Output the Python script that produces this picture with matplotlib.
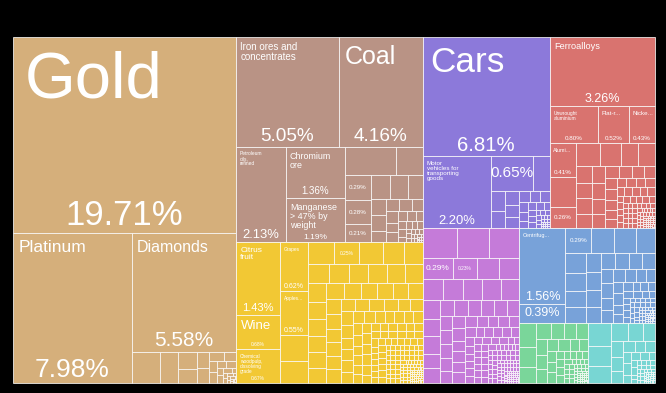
import matplotlib
matplotlib.use("Agg")
import matplotlib.pyplot as plt
from matplotlib.patches import Rectangle

plt.rcParams['font.family'] = ['Liberation Sans', 'DejaVu Sans']

# Share of total exports (%) -- labelled products first, then the unlabelled tail
precious_names = ['Gold', 'Platinum', 'Diamonds']
precious_vals = [19.71, 7.98, 5.58]
precious_tail = [0.40, 0.25, 0.14, 0.12, 0.09, 0.08, 0.06, 0.05, 0.04, 0.04,
                 0.03, 0.03, 0.02, 0.02, 0.02, 0.01, 0.01, 0.01, 0.01,
                 0.005, 0.005, 0.005, 0.005, 0.002, 0.002, 0.002, 0.002, 0.002, 0.002]

mineral_names = ['Iron ores and\nconcentrates', 'Coal', 'Petroleum\noils,\nrefined',
                 'Chromium\nore', 'Manganese\n> 47% by\nweight', '', '', '']
mineral_vals = [5.05, 4.16, 2.13, 1.36, 1.19, 0.29, 0.28, 0.21]
mineral_tail = [0.66, 0.34, 0.20, 0.19, 0.16, 0.11, 0.11, 0.08, 0.07, 0.07,
                0.06, 0.06, 0.05, 0.05, 0.04, 0.04, 0.03, 0.03, 0.03, 0.02,
                0.02, 0.02, 0.02, 0.01, 0.01, 0.01, 0.01, 0.01, 0.01,
                0.005, 0.005, 0.005, 0.005, 0.005,
                0.002, 0.002, 0.002, 0.002, 0.002, 0.002, 0.002, 0.002]

food_names = ['Citrus\nfruit', 'Wine', 'Chemical\nwoodpulp,\ndissolving\ngrade',
              'Grapes', 'Apples...', '']
food_vals = [1.43, 0.68, 0.67, 0.62, 0.55, 0.25]
food_tail = [0.33, 0.28, 0.26, 0.23, 0.21, 0.19, 0.18, 0.17, 0.17, 0.16,
             0.16, 0.15, 0.15, 0.14, 0.14, 0.13, 0.13, 0.12, 0.12, 0.12,
             0.11, 0.11, 0.11, 0.10, 0.10, 0.10, 0.09, 0.09, 0.09, 0.09,
             0.08, 0.08, 0.08, 0.08, 0.07, 0.07, 0.07, 0.07, 0.06, 0.06,
             0.06, 0.06, 0.06, 0.06, 0.05, 0.05, 0.05, 0.05, 0.05, 0.05,
             0.05, 0.04, 0.04, 0.04, 0.04, 0.04, 0.04, 0.04, 0.04, 0.04,
             0.03, 0.03, 0.03, 0.03, 0.03, 0.03, 0.03, 0.03, 0.03, 0.03,
             0.03, 0.03, 0.03, 0.03,
             0.02, 0.02, 0.02, 0.02, 0.02, 0.02, 0.02, 0.02, 0.02, 0.02,
             0.02, 0.02, 0.02, 0.02, 0.02, 0.02, 0.02, 0.02, 0.02,
             0.01, 0.01, 0.01, 0.01, 0.01, 0.01, 0.01, 0.01, 0.01, 0.01,
             0.01, 0.01, 0.01, 0.01, 0.01, 0.01, 0.01, 0.01, 0.01, 0.01,
             0.01, 0.01, 0.01, 0.01, 0.01, 0.01, 0.01, 0.01, 0.01, 0.01,
             0.01, 0.01, 0.01, 0.01, 0.01, 0.01, 0.01, 0.01, 0.01, 0.01,
             0.005, 0.005, 0.005, 0.005, 0.005, 0.005, 0.005, 0.005, 0.005, 0.005,
             0.005, 0.005, 0.005, 0.005, 0.005, 0.005, 0.005, 0.005, 0.005, 0.005,
             0.005, 0.005, 0.005, 0.005, 0.005, 0.005, 0.005, 0.005, 0.005, 0.005,
             0.002, 0.002, 0.002, 0.002, 0.002, 0.002, 0.002, 0.002, 0.002, 0.002,
             0.002, 0.002, 0.002, 0.002, 0.002, 0.002, 0.002, 0.002, 0.002, 0.002,
             0.002, 0.002, 0.002, 0.002, 0.002, 0.002, 0.002, 0.002, 0.002, 0.002,
             0.002, 0.002, 0.002, 0.002, 0.002, 0.002, 0.002, 0.002, 0.002, 0.002]

transport_names = ['Cars', 'Motor\nvehicles for\ntransporting\ngoods', '']
transport_vals = [6.81, 2.20, 0.65]
transport_tail = [0.26, 0.13, 0.11, 0.09, 0.08, 0.07, 0.06, 0.05, 0.05, 0.04,
                  0.04, 0.03, 0.03, 0.03, 0.02, 0.02, 0.02, 0.02,
                  0.01, 0.01, 0.01, 0.01, 0.01, 0.01,
                  0.005, 0.005, 0.005, 0.005, 0.005, 0.005,
                  0.002, 0.002, 0.002, 0.002, 0.002, 0.002,
                  0.002, 0.002, 0.002, 0.002, 0.002, 0.002]

metals_names = ['Ferroalloys', 'Unwrought\naluminium', 'Flat-r...', 'Nicke...', 'Alumi...', '']
metals_vals = [3.26, 0.80, 0.52, 0.43, 0.41, 0.26]
metals_tail = [0.35, 0.24, 0.22, 0.18, 0.17, 0.12, 0.11, 0.11, 0.10, 0.10,
               0.09, 0.09, 0.08, 0.08, 0.07, 0.07, 0.06, 0.06, 0.06, 0.05,
               0.05, 0.05, 0.04, 0.04, 0.04, 0.04, 0.03, 0.03, 0.03, 0.03, 0.03,
               0.02, 0.02, 0.02, 0.02, 0.02, 0.02, 0.02, 0.02, 0.02, 0.02,
               0.01, 0.01, 0.01, 0.01, 0.01, 0.01, 0.01, 0.01, 0.01, 0.01,
               0.01, 0.01, 0.01, 0.01, 0.01, 0.01, 0.01, 0.01, 0.01, 0.01,
               0.005, 0.005, 0.005, 0.005, 0.005, 0.005, 0.005, 0.005, 0.005, 0.005,
               0.005, 0.005, 0.005, 0.005, 0.005, 0.005, 0.005, 0.005, 0.005, 0.005,
               0.002, 0.002, 0.002, 0.002, 0.002, 0.002, 0.002, 0.002, 0.002, 0.002,
               0.002, 0.002, 0.002, 0.002, 0.002, 0.002, 0.002, 0.002, 0.002, 0.002,
               0.002, 0.002, 0.002, 0.002, 0.002, 0.002, 0.002, 0.002, 0.002, 0.002]

machines_names = ['', '']
machines_vals = [0.29, 0.23]
machines_tail = [0.45, 0.43, 0.41, 0.21, 0.20, 0.19, 0.19, 0.18, 0.18, 0.17,
                 0.14, 0.13, 0.13, 0.11, 0.11, 0.10, 0.10, 0.09, 0.09, 0.09,
                 0.09, 0.08, 0.08, 0.08, 0.07, 0.07, 0.07, 0.07, 0.06, 0.06,
                 0.06, 0.06, 0.06, 0.05, 0.05, 0.05, 0.05, 0.05,
                 0.04, 0.04, 0.04, 0.04, 0.04, 0.04,
                 0.03, 0.03, 0.03, 0.03, 0.03, 0.03, 0.03, 0.03, 0.03,
                 0.02, 0.02, 0.02, 0.02, 0.02, 0.02, 0.02, 0.02, 0.02, 0.02,
                 0.02, 0.02, 0.02, 0.02, 0.02,
                 0.01, 0.01, 0.01, 0.01, 0.01, 0.01, 0.01, 0.01, 0.01, 0.01,
                 0.01, 0.01, 0.01, 0.01, 0.01, 0.01, 0.01, 0.01, 0.01, 0.01,
                 0.01, 0.01, 0.01, 0.01, 0.01, 0.01, 0.01, 0.01, 0.01, 0.01,
                 0.005, 0.005, 0.005, 0.005, 0.005, 0.005, 0.005, 0.005, 0.005, 0.005,
                 0.005, 0.005, 0.005, 0.005, 0.005, 0.005, 0.005, 0.005, 0.005, 0.005,
                 0.005, 0.005, 0.005, 0.005, 0.005, 0.005, 0.005, 0.005, 0.005, 0.005,
                 0.002, 0.002, 0.002, 0.002, 0.002, 0.002, 0.002, 0.002, 0.002, 0.002,
                 0.002, 0.002, 0.002, 0.002, 0.002, 0.002, 0.002, 0.002, 0.002, 0.002,
                 0.002, 0.002, 0.002, 0.002, 0.002, 0.002, 0.002, 0.002, 0.002, 0.002,
                 0.002, 0.002, 0.002, 0.002, 0.002, 0.002, 0.002, 0.002, 0.002, 0.002]

chem_names = ['Centrifug...', '', '']
chem_vals = [1.56, 0.39, 0.29]
chem_tail = [0.26, 0.25, 0.21, 0.18, 0.16, 0.15, 0.14, 0.13, 0.12, 0.12,
             0.11, 0.10, 0.10, 0.09, 0.09, 0.08, 0.08, 0.07, 0.07, 0.07,
             0.06, 0.06, 0.05, 0.05, 0.05, 0.04, 0.04, 0.04,
             0.03, 0.03, 0.03, 0.03, 0.03, 0.02, 0.02, 0.02, 0.02, 0.02, 0.02,
             0.01, 0.01, 0.01, 0.01, 0.01, 0.01, 0.01, 0.01, 0.01, 0.01,
             0.01, 0.01, 0.01, 0.01, 0.01,
             0.005, 0.005, 0.005, 0.005, 0.005, 0.005, 0.005, 0.005,
             0.005, 0.005, 0.005, 0.005, 0.005, 0.005, 0.005, 0.005,
             0.002, 0.002, 0.002, 0.002, 0.002, 0.002, 0.002, 0.002, 0.002, 0.002,
             0.002, 0.002, 0.002, 0.002, 0.002, 0.002, 0.002, 0.002, 0.002, 0.002,
             0.002, 0.002, 0.002, 0.002, 0.002]

plastics_names = []
plastics_vals = []
plastics_tail = [0.18, 0.15, 0.12, 0.11, 0.10, 0.09, 0.09, 0.08, 0.07, 0.07,
                 0.06, 0.06, 0.05, 0.05, 0.04, 0.04, 0.04, 0.03, 0.03, 0.03,
                 0.03, 0.02, 0.02, 0.02, 0.02, 0.02,
                 0.01, 0.01, 0.01, 0.01, 0.01, 0.01, 0.01, 0.01, 0.01, 0.01, 0.01, 0.01,
                 0.005, 0.005, 0.005, 0.005, 0.005, 0.005, 0.005,
                 0.005, 0.005, 0.005, 0.005, 0.005, 0.005, 0.005,
                 0.002, 0.002, 0.002, 0.002, 0.002, 0.002, 0.002, 0.002, 0.002, 0.002,
                 0.002, 0.002, 0.002, 0.002, 0.002, 0.002, 0.002, 0.002, 0.002, 0.002,
                 0.002, 0.002, 0.002, 0.002, 0.002]

textiles_names = []
textiles_vals = []
textiles_tail = [0.24, 0.20, 0.17, 0.14, 0.12, 0.10, 0.09, 0.08, 0.07, 0.06,
                 0.05, 0.05, 0.04, 0.04, 0.03, 0.03, 0.03, 0.02, 0.02, 0.02,
                 0.01, 0.01, 0.01, 0.01, 0.01, 0.01, 0.01, 0.01, 0.01, 0.01,
                 0.005, 0.005, 0.005, 0.005, 0.005, 0.005,
                 0.005, 0.005, 0.005, 0.005, 0.005, 0.005,
                 0.002, 0.002, 0.002, 0.002, 0.002, 0.002, 0.002, 0.002, 0.002, 0.002,
                 0.002, 0.002, 0.002, 0.002, 0.002, 0.002, 0.002, 0.002, 0.002, 0.002,
                 0.002, 0.002, 0.002, 0.002, 0.002]

# colours and label font sizes (name pt, percent pt); name pt 0 -> percent only, centred
COLORS = {
    'precious': '#D5AF7B', 'mineral': '#B99385', 'food': '#F2C834',
    'transport': '#8C79DA', 'metals': '#D9736F', 'machines': '#C57BD9',
    'chem': '#78A2D9', 'plastics': '#7AD69A', 'textiles': '#78D6D3',
}
LABEL_PT = {
    'precious': [(47, 25), (12.5, 19), (11.5, 15)],
    'mineral': [(7, 13.7), (18, 13.7), (3.5, 9.4), (6.4, 7), (6.4, 6), (0, 4.5), (0, 4.5), (0, 4.5)],
    'food': [(6, 8), (9.5, 3.5), (3.5, 3.5), (3.5, 5), (3.5, 5), (0, 3.5)],
    'transport': [(25.3, 14.7), (4.5, 9.4), (0, 11)],
    'metals': [(6.6, 9), (3.5, 4.5), (4.5, 4.5), (4.5, 4.5), (4, 4.5), (0, 4.5)],
    'machines': [(0, 6), (0, 3.5)],
    'chem': [(4, 9), (0, 9), (0, 4.5)],
    'plastics': [], 'textiles': [],
}

groups = {
    'precious': (precious_names, precious_vals, precious_tail),
    'mineral': (mineral_names, mineral_vals, mineral_tail),
    'food': (food_names, food_vals, food_tail),
    'transport': (transport_names, transport_vals, transport_tail),
    'metals': (metals_names, metals_vals, metals_tail),
    'machines': (machines_names, machines_vals, machines_tail),
    'chem': (chem_names, chem_vals, chem_tail),
    'plastics': (plastics_names, plastics_vals, plastics_tail),
    'textiles': (textiles_names, textiles_vals, textiles_tail),
}


def squarify(values, x0, y0, x1, y1):
    """d3 style squarified layout; values sorted descending."""
    rects = []
    n = len(values)
    remaining = float(sum(values))
    i0 = 0
    while i0 < n:
        dx, dy = x1 - x0, y1 - y0
        s = values[i0]
        i1 = i0 + 1
        lo = hi = s
        alpha = max(dy / dx, dx / dy) / remaining
        beta = s * s * alpha
        best = max(hi / beta, beta / lo)
        while i1 < n:
            v = values[i1]
            s2 = s + v
            beta = s2 * s2 * alpha
            r = max(max(hi, v) / beta, beta / min(lo, v))
            if r > best:
                break
            s, lo, hi, best = s2, min(lo, v), max(hi, v), r
            i1 += 1
        row = values[i0:i1]
        if dx < dy:
            h = dy * s / remaining
            xx = x0
            for v in row:
                w = dx * v / s
                rects.append((xx, y0, xx + w, y0 + h))
                xx += w
            y0 += h
        else:
            w = dx * s / remaining
            yy = y0
            for v in row:
                h = dy * v / s
                rects.append((x0, yy, x0 + w, yy + h))
                yy += h
            x0 += w
        remaining -= s
        i0 = i1
    return rects


PX = 100 / 72  # px per point at dpi 100

fig = plt.figure(figsize=(6.66, 3.93), dpi=100, facecolor='black')
ax = fig.add_axes([0, 0, 1, 1])
ax.set_xlim(0, 666)
ax.set_ylim(393, 0)
ax.axis('off')

keys = list(groups)
totals = {k: sum(groups[k][1]) + sum(groups[k][2]) for k in keys}
keys.sort(key=lambda k: -totals[k])
outer = squarify([totals[k] for k in keys], 13, 37, 655, 383)

for key, (gx0, gy0, gx1, gy1) in zip(keys, outer):
    names, vals, tail = groups[key]
    items = [(v, i) for i, v in enumerate(vals)] + [(v, None) for v in tail]
    items.sort(key=lambda t: -t[0])
    cells = squarify([v for v, _ in items], gx0, gy0, gx1, gy1)
    for (v, idx), (x0, y0, x1, y1) in zip(items, cells):
        ax.add_patch(Rectangle((x0, y0), x1 - x0, y1 - y0, facecolor=COLORS[key],
                               edgecolor=(1, 1, 1, 0.75), linewidth=0.7))
        if idx is None:
            continue
        name_pt, pct_pt = LABEL_PT[key][idx]
        pct = f'{v:.2f}%'
        if name_pt:
            pad_x = 3 + 0.13 * name_pt * PX
            pad_y = 4 + 0.14 * name_pt * PX
            ax.text(x0 + pad_x, y0 + pad_y, names[idx], color='white', fontsize=name_pt,
                    ha='left', va='top', linespacing=1.0)
            ax.text((x0 + x1) / 2, y1 - (2 + 0.17 * pct_pt * PX), pct, color='white',
                    fontsize=pct_pt, ha='center', va='baseline')
        else:
            ax.text((x0 + x1) / 2, (y0 + y1) / 2, pct, color='white',
                    fontsize=pct_pt, ha='center', va='center')

fig.savefig('out.png', dpi=100, facecolor='black')
